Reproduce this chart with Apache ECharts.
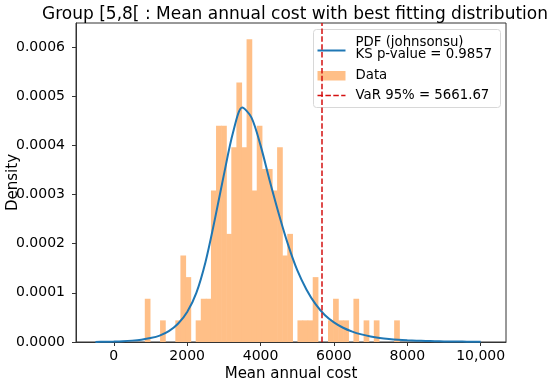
<!DOCTYPE html>
<html>
<head>
<meta charset="utf-8">
<script src="https://cdn.jsdelivr.net/npm/echarts@6/dist/echarts.min.js"></script>
<style>html,body{margin:0;padding:0;background:#fff}#c{width:550px;height:384px}</style>
</head>
<body>
<div id="c"></div>
<script>
// Histogram bins (equal width) and densities
const binStart = 845;
const binWidth = 138.7;
const binDensity = [
  0.000088, 0, 0, 0.000044, 0, 0, 0.000044, 0.000176, 0.000132, 0,
  0.000044, 0.000088, 0.000088, 0.000308, 0.00044, 0.00044, 0.00022, 0.000396, 0.000528, 0.000396,
  0.000616, 0.000308, 0.00044, 0.000352, 0.000352, 0.000308, 0.000396, 0.000176, 0.00022, 0,
  0.000044, 0.000044, 0.000044, 0.000132, 0, 0, 0.000044, 0.000088, 0.000044, 0.000044,
  0, 0.000088, 0, 0.000044, 0, 0.000044, 0, 0, 0, 0.000044
];
// Fitted PDF (johnsonsu) points
const pdfX = [-500, -250, 0, 250, 500, 750, 1000, 1250, 1500, 1750, 2000, 2250, 2500, 2750, 3000, 3250, 3500, 3750, 4000, 4250, 4500, 4750, 5000, 5250, 5500, 5750, 6000, 6250, 6500, 6750, 7000, 7250, 7500, 7750, 8000, 8250, 8500, 8750, 9000, 9250, 9500, 9750, 10000];
const pdfY = [0.0000002, 0.0000004, 0.0000008, 0.0000015, 0.0000028, 0.0000048, 0.000008, 0.000013, 0.000022, 0.000037, 0.000061, 0.0001, 0.000163, 0.000248, 0.00034, 0.000426, 0.000477, 0.000457, 0.000400, 0.000328, 0.00026, 0.000198, 0.000146, 0.000107, 0.000077, 0.000055, 0.00004, 0.000029, 0.0000212, 0.0000155, 0.0000113, 0.0000083, 0.0000062, 0.0000046, 0.0000035, 0.0000027, 0.000002, 0.0000016, 0.0000012, 0.000001, 0.0000008, 0.0000006, 0.0000005];
const varValue = 5661.67;
const ksP = 0.9857;
const xTicks = [0, 2000, 4000, 6000, 8000, 10000];
const yTicks = [0, 0.0001, 0.0002, 0.0003, 0.0004, 0.0005, 0.0006];
const titleText = 'Group [5,8[ : Mean annual cost with best fitting distribution';
const xName = 'Mean annual cost';
const yName = 'Density';
const legendPdf = 'PDF (johnsonsu)';
const legendKs = 'KS p-value = ' + ksP.toFixed(4);
const legendData = 'Data';
const legendVar = 'VaR 95% = ' + varValue.toFixed(2);

const histData = binDensity.map((d, i) => [binStart + i * binWidth, binStart + (i + 1) * binWidth, d]);
const pdfData = pdfX.map((x, i) => [x, pdfY[i]]);

const FONT = 'DejaVu Sans';
const BAR = '#ffbf87';
const chart = echarts.init(document.getElementById('c'), null, {renderer: 'canvas'});
const lx = 313, ly = 29;
chart.setOption({
  animation: false,
  backgroundColor: '#fff',
  title: {
    text: titleText, left: 290, top: 1, textAlign: 'center',
    textStyle: {fontFamily: FONT, fontSize: 17, fontWeight: 'normal', color: '#000'}
  },
  grid: {left: 76, right: 44, top: 23, bottom: 42, containLabel: false, outerBoundsMode: 'none',
    show: true, borderColor: '#333', borderWidth: 1, backgroundColor: 'transparent'},
  xAxis: {
    type: 'value', min: -1030, max: 10690,
    name: xName, nameLocation: 'middle', nameGap: 25, nameMoveOverlap: false,
    nameTextStyle: {fontFamily: FONT, fontSize: 15, color: '#000'},
    axisLine: {show: true, onZero: false, lineStyle: {color: '#333', width: 1}},
    axisTick: {show: true, length: 4, inside: false, lineStyle: {color: '#333'}, customValues: xTicks},
    axisLabel: {fontFamily: FONT, fontSize: 14, color: '#000', margin: 7, customValues: xTicks,
      formatter: v => v >= 10000 ? v.toLocaleString('en-US') : String(v)},
    splitLine: {show: false}
  },
  yAxis: {
    type: 'value', min: 0, max: 0.000649,
    name: yName, nameLocation: 'middle', nameGap: 55, nameRotate: 90, nameMoveOverlap: false,
    nameTextStyle: {fontFamily: FONT, fontSize: 15, color: '#000'},
    axisLine: {show: true, onZero: false, lineStyle: {color: '#333', width: 1}},
    axisTick: {show: true, length: 4, lineStyle: {color: '#333'}, customValues: yTicks},
    axisLabel: {fontFamily: FONT, fontSize: 14, color: '#000', margin: 11, customValues: yTicks,
      formatter: v => v.toFixed(4)},
    splitLine: {show: false}
  },
  series: [
    {
      type: 'custom', name: legendData, data: histData, z: 1,
      renderItem: (params, api) => {
        const p0 = api.coord([api.value(0), api.value(2)]);
        const p1 = api.coord([api.value(1), 0]);
        return {type: 'rect', shape: {x: p0[0], y: p0[1], width: p1[0] - p0[0] + 0.6, height: p1[1] - p0[1]},
          style: {fill: BAR}};
      }
    },
    {
      type: 'line', name: legendPdf, data: pdfData, showSymbol: false, smooth: 0.3, z: 3,
      lineStyle: {color: '#1f77b4', width: 2},
      markLine: {
        silent: true, symbol: 'none', label: {show: false},
        lineStyle: {color: '#d41010', width: 1.5, type: [5.5, 2.4]},
        data: [{xAxis: varValue}]
      }
    }
  ],
  graphic: [
    {type: 'group', left: lx, top: ly, z: 100, children: [
      {type: 'rect', shape: {x: 0, y: 0, width: 187, height: 78, r: 3},
        style: {fill: 'rgba(255,255,255,0.8)', stroke: '#d8d8d8', lineWidth: 1}},
      {type: 'line', shape: {x1: 4, y1: 21, x2: 32, y2: 21}, style: {stroke: '#1f77b4', lineWidth: 2}},
      {type: 'text', x: 42, y: 13, style: {text: legendPdf, fontFamily: FONT, fontSize: 13.3, fill: '#000', verticalAlign: 'middle'}},
      {type: 'text', x: 42, y: 25, style: {text: legendKs, fontFamily: FONT, fontSize: 13.3, fill: '#000', verticalAlign: 'middle'}},
      {type: 'rect', shape: {x: 4, y: 41.5, width: 28, height: 9.5}, style: {fill: BAR}},
      {type: 'text', x: 42, y: 46, style: {text: legendData, fontFamily: FONT, fontSize: 13.3, fill: '#000', verticalAlign: 'middle'}},
      {type: 'line', shape: {x1: 4, y1: 66, x2: 32, y2: 66}, style: {stroke: '#d41010', lineWidth: 1.5, lineDash: [5.5, 2.4]}},
      {type: 'text', x: 42, y: 66, style: {text: legendVar, fontFamily: FONT, fontSize: 13.3, fill: '#000', verticalAlign: 'middle'}}
    ]}
  ]
});
</script>
</body>
</html>
